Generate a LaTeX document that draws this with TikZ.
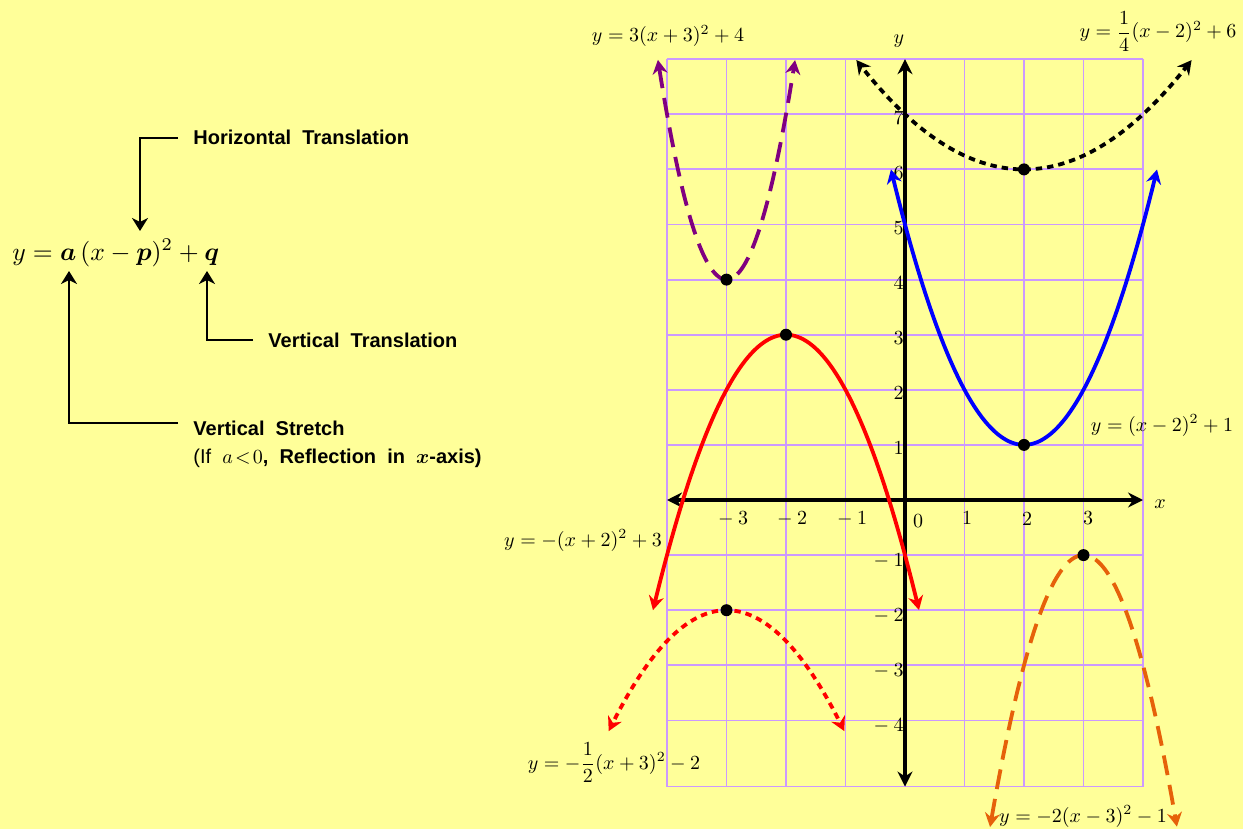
\documentclass[tikz,border=0pt]{standalone}
\usepackage{amsmath}
\usepackage{bm}
\usepackage{graphicx}
\usepackage{fontspec}
\newfontfamily\lsans{Liberation Sans}
\usetikzlibrary{arrows.meta}
\definecolor{bgyellow}{RGB}{255,255,153}
\definecolor{gridc}{RGB}{204,153,255}
\definecolor{cpurple}{RGB}{128,0,128}
\definecolor{corange}{RGB}{230,97,10}
\begin{document}
\begin{tikzpicture}[x=0.5pt,y=-0.5pt,
  gridline/.style={gridc, line width=0.9pt},
  axisline/.style={line width=2.4pt, {Stealth[length=7.5pt,width=7.5pt,inset=2.5pt]}-{Stealth[length=7.5pt,width=7.5pt,inset=2.5pt]}},
  curve/.style={line width=1.9pt, {Stealth[length=7pt,width=7.5pt,inset=2.3pt]}-{Stealth[length=7pt,width=7.5pt,inset=2.3pt]}, samples=100},
  longdash/.style={dash pattern=on 10pt off 5pt},
  dotline/.style={dash pattern=on 3.2pt off 2.5pt},
  xticklab/.style={inner sep=0pt, anchor=base},
  yticklab/.style={inner sep=0pt, anchor=base east},
  eqlabel/.style={inner sep=0pt, anchor=base},
  anno/.style={font=\lsans\bfseries, inner xsep=7.5pt, inner ysep=0pt, anchor=base west},
  annoarrow/.style={line width=1.1pt, -{Stealth[length=6.5pt,width=8pt,inset=2pt]}},
]
\fill[bgyellow] (0,0) rectangle (1243,829);
\useasboundingbox (0,0) rectangle (1243,829);

% ---------- left: general form ----------
\node[anchor=base west, inner sep=0pt] (eq) at (12,260)
  {\scalebox{1.28}{$y=\bm{a}\,(x-\bm{p})^2+\bm{q}$}};
\coordinate (ptip) at (140,231);
\coordinate (qtip) at (207,271);
\coordinate (atip) at (69,271);
\node[anno] (ht) at (178,145) {Horizontal\ \ Translation};
\node[anno] (vt) at (253,347) {Vertical\ \ Translation};
\node[anno] (vs) at (178,435) {Vertical\ \ Stretch};
\node[anno] (vs2) at (178,463) {{\mdseries(If}\ \ $a\!<\!0$,\ \ Reflection\ \ in\ \ $\bm{x}$-axis)};
\draw[annoarrow] (ht.west) -| (ptip);
\draw[annoarrow] (vt.west) -| (qtip);
\draw[annoarrow] ([yshift=-1.3pt]vs.north west) -| (atip);

% ---------- graph ----------
\begin{scope}[shift={(905,500)}, x=29.75pt, y=27.55pt]
  \foreach \i in {-4,...,4} \draw[gridline] (\i,-5.2) -- (\i,8);
  \foreach \j in {-4,...,8} \draw[gridline] (-4,\j) -- (4,\j);
  \draw[gridline] (-4,-5.2) -- (4,-5.2);
  \coordinate (xl) at (-4,0);
  \coordinate (xr) at (4,0);
  \coordinate (yb) at (0,-5.2);
  \coordinate (yt) at (0,8);
  \draw[axisline] (xl) -- (xr);
  \draw[axisline] (yb) -- (yt);
\end{scope}

% axis labels
\node[eqlabel] (xlab) at (1160,508) {$x$};
\node[eqlabel] (ylab) at (899,44) {$y$};

% x tick labels
\node[xticklab] (xm3) at (733,524) {$-\:3$};
\node[xticklab] (xm2) at (792,524) {$-\:2$};
\node[xticklab] (xm1) at (852,524) {$-\:1$};
\node[xticklab] (x0) at (918,527) {$0$};
\node[xticklab] (x1) at (967,524) {$1$};
\node[xticklab] (x2) at (1027,525) {$2$};
\node[xticklab] (x3) at (1088,524) {$3$};
% y tick labels
\foreach \j in {1,...,7}
  \node[yticklab] (yp\j) at (904,{500-55.1*\j+10}) {$\j$};
\foreach \j in {1,...,4}
  \node[yticklab] (ym\j) at (904,{500+55.1*\j+11.5}) {$-\:\j$};

\begin{scope}[shift={(905,500)}, x=29.75pt, y=27.55pt]
  % y = 3(x+3)^2+4
  \draw[curve, cpurple, longdash, domain=-4.153:-1.847] plot (\x,{3*(\x+3)^2+4});
  % y = 1/4 (x-2)^2+6
  \draw[curve, black, dotline, domain=-0.818:4.818] plot (\x,{0.25*(\x-2)^2+6});
  % y = (x-2)^2+1
  \draw[curve, blue, domain=-0.236:4.236] plot (\x,{(\x-2)^2+1});
  % y = -(x+2)^2+3
  \draw[curve, red, domain=-4.236:0.236] plot (\x,{3-(\x+2)^2});
  % y = -1/2 (x+3)^2-2
  \draw[curve, red, dotline, domain=-4.98:-1.02] plot (\x,{-2-0.56*(\x+3)^2});
  % y = -2(x-3)^2-1
  \draw[curve, corange, longdash, domain=1.429:4.571] plot (\x,{-1-2*(\x-3)^2});
  % vertices
  \fill (-3,4) circle[radius=3pt];
  \fill (-2,3) circle[radius=3pt];
  \fill (2,6) circle[radius=3pt];
  \fill (2,1) circle[radius=3pt];
  \fill (-3,-2) circle[radius=3pt];
  \fill (3,-1) circle[radius=3pt];
\end{scope}

% equation labels
\node[eqlabel] (l1) at (668,42) {$y=3(x+3)^2+4$};
\node[eqlabel] (l2) at (1158,38) {$y=\dfrac{1}{4}(x-2)^2+6$};
\node[eqlabel] (l3) at (1162,431) {$y=(x-2)^2+1$};
\node[eqlabel] (l4) at (583,546) {$y=-(x+2)^2+3$};
\node[eqlabel] (l5) at (614,769) {$y=-\dfrac{1}{2}(x+3)^2-2$};
\node[eqlabel] (l6) at (1083,822) {$y=-2(x-3)^2-1$};
\end{tikzpicture}
\end{document}
